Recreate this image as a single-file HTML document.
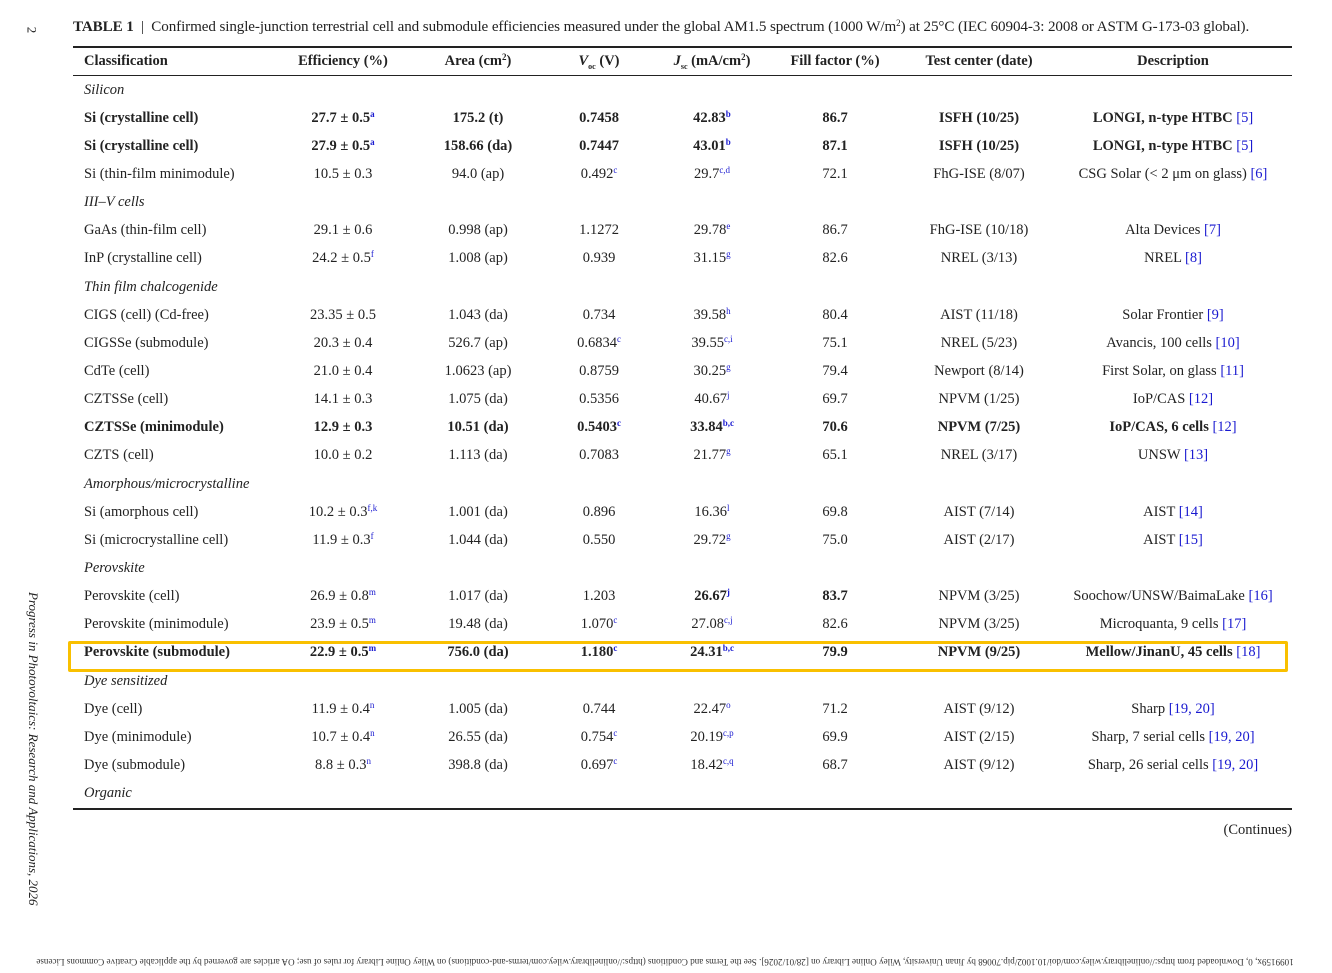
<!DOCTYPE html>
<html><head><meta charset="utf-8"><style>
body{margin:0;width:1332px;height:973px;background:#fff;position:relative;overflow:hidden;font-family:"Liberation Serif",serif;color:#222}
.cap{position:absolute;left:73px;top:19px;font-size:15.1px;white-space:nowrap;letter-spacing:-0.1px}
table{position:absolute;left:73px;top:46px;border-collapse:collapse;font-size:14.5px;table-layout:fixed}
td,th{height:28.15px;padding:0;white-space:nowrap;text-align:center;vertical-align:middle}
th{font-weight:bold;height:27px}
thead tr{border-top:2px solid #222;border-bottom:1.5px solid #222}
tbody tr:last-child{border-bottom:2px solid #222}
td:first-child,th:first-child{text-align:left;padding-left:11px}
tr.b td{font-weight:bold}
tr.g td{font-style:italic}
sup{color:#1a1ad0;font-size:9px;vertical-align:5px;line-height:0}
.r{color:#1a1ad0}
.hl{position:absolute;left:68px;top:641px;width:1214px;height:25px;border:3.5px solid #F9C000;border-radius:2px}
.side{position:absolute;left:33px;top:592px;transform-origin:0 0;transform:rotate(90deg) translateY(-50%);font-size:13px;font-style:italic;white-space:nowrap;letter-spacing:0px}
.pn{position:absolute;left:28px;top:22px;transform:rotate(90deg);font-size:13px}
.foot{position:absolute;left:10px;top:957px;width:1310px;font-size:9.1px;white-space:nowrap;transform:rotate(180deg);text-align:center;color:#333}
.cont{position:absolute;right:40px;top:822px;font-size:14.5px}
</style></head><body>
<div class="pn">2</div>
<div class="cap"><b>TABLE 1</b> &nbsp;|&nbsp; Confirmed single-junction terrestrial cell and submodule efficiencies measured under the global AM1.5 spectrum (1000 W/m<sup style="color:#222">2</sup>) at 25°C (IEC 60904-3: 2008 or ASTM G-173-03 global).</div>
<table>
<colgroup><col style="width:197px"><col style="width:146px"><col style="width:124px"><col style="width:118px"><col style="width:108px"><col style="width:138px"><col style="width:150px"><col style="width:238px"></colgroup>
<thead><tr><th>Classification</th><th>Efficiency (%)</th><th>Area (cm<sup style="color:#222">2</sup>)</th><th><i>V</i><sub style="font-size:8px">oc</sub> (V)</th><th><i>J</i><sub style="font-size:8px">sc</sub> (mA/cm<sup style="color:#222">2</sup>)</th><th>Fill factor (%)</th><th>Test center (date)</th><th>Description</th></tr></thead>
<tbody>
<tr class="g"><td>Silicon</td><td colspan="7"></td></tr>
<tr class="b"><td>Si (crystalline cell)</td><td>27.7 ± 0.5<sup>a</sup></td><td>175.2 (t)</td><td>0.7458</td><td>42.83<sup>b</sup></td><td>86.7</td><td>ISFH (10/25)</td><td>LONGI, n-type HTBC <span class="r" style="font-weight:normal">[5]</span></td></tr>
<tr class="b"><td>Si (crystalline cell)</td><td>27.9 ± 0.5<sup>a</sup></td><td>158.66 (da)</td><td>0.7447</td><td>43.01<sup>b</sup></td><td>87.1</td><td>ISFH (10/25)</td><td>LONGI, n-type HTBC <span class="r" style="font-weight:normal">[5]</span></td></tr>
<tr><td>Si (thin-film minimodule)</td><td>10.5 ± 0.3</td><td>94.0 (ap)</td><td>0.492<sup>c</sup></td><td>29.7<sup>c,d</sup></td><td>72.1</td><td>FhG-ISE (8/07)</td><td>CSG Solar (&lt; 2 μm on glass) <span class="r">[6]</span></td></tr>
<tr class="g"><td>III–V cells</td><td colspan="7"></td></tr>
<tr><td>GaAs (thin-film cell)</td><td>29.1 ± 0.6</td><td>0.998 (ap)</td><td>1.1272</td><td>29.78<sup>e</sup></td><td>86.7</td><td>FhG-ISE (10/18)</td><td>Alta Devices <span class="r">[7]</span></td></tr>
<tr><td>InP (crystalline cell)</td><td>24.2 ± 0.5<sup>f</sup></td><td>1.008 (ap)</td><td>0.939</td><td>31.15<sup>g</sup></td><td>82.6</td><td>NREL (3/13)</td><td>NREL <span class="r">[8]</span></td></tr>
<tr class="g"><td>Thin film chalcogenide</td><td colspan="7"></td></tr>
<tr><td>CIGS (cell) (Cd-free)</td><td>23.35 ± 0.5</td><td>1.043 (da)</td><td>0.734</td><td>39.58<sup>h</sup></td><td>80.4</td><td>AIST (11/18)</td><td>Solar Frontier <span class="r">[9]</span></td></tr>
<tr><td>CIGSSe (submodule)</td><td>20.3 ± 0.4</td><td>526.7 (ap)</td><td>0.6834<sup>c</sup></td><td>39.55<sup>c,i</sup></td><td>75.1</td><td>NREL (5/23)</td><td>Avancis, 100 cells <span class="r">[10]</span></td></tr>
<tr><td>CdTe (cell)</td><td>21.0 ± 0.4</td><td>1.0623 (ap)</td><td>0.8759</td><td>30.25<sup>g</sup></td><td>79.4</td><td>Newport (8/14)</td><td>First Solar, on glass <span class="r">[11]</span></td></tr>
<tr><td>CZTSSe (cell)</td><td>14.1 ± 0.3</td><td>1.075 (da)</td><td>0.5356</td><td>40.67<sup>j</sup></td><td>69.7</td><td>NPVM (1/25)</td><td>IoP/CAS <span class="r">[12]</span></td></tr>
<tr class="b"><td>CZTSSe (minimodule)</td><td>12.9 ± 0.3</td><td>10.51 (da)</td><td>0.5403<sup>c</sup></td><td>33.84<sup>b,c</sup></td><td>70.6</td><td>NPVM (7/25)</td><td>IoP/CAS, 6 cells <span class="r" style="font-weight:normal">[12]</span></td></tr>
<tr><td>CZTS (cell)</td><td>10.0 ± 0.2</td><td>1.113 (da)</td><td>0.7083</td><td>21.77<sup>g</sup></td><td>65.1</td><td>NREL (3/17)</td><td>UNSW <span class="r">[13]</span></td></tr>
<tr class="g"><td>Amorphous/microcrystalline</td><td colspan="7"></td></tr>
<tr><td>Si (amorphous cell)</td><td>10.2 ± 0.3<sup>f,k</sup></td><td>1.001 (da)</td><td>0.896</td><td>16.36<sup>l</sup></td><td>69.8</td><td>AIST (7/14)</td><td>AIST <span class="r">[14]</span></td></tr>
<tr><td>Si (microcrystalline cell)</td><td>11.9 ± 0.3<sup>f</sup></td><td>1.044 (da)</td><td>0.550</td><td>29.72<sup>g</sup></td><td>75.0</td><td>AIST (2/17)</td><td>AIST <span class="r">[15]</span></td></tr>
<tr class="g"><td>Perovskite</td><td colspan="7"></td></tr>
<tr><td>Perovskite (cell)</td><td>26.9 ± 0.8<sup>m</sup></td><td>1.017 (da)</td><td>1.203</td><td><b>26.67<sup>j</sup></b></td><td><b>83.7</b></td><td>NPVM (3/25)</td><td>Soochow/UNSW/BaimaLake <span class="r">[16]</span></td></tr>
<tr><td>Perovskite (minimodule)</td><td>23.9 ± 0.5<sup>m</sup></td><td>19.48 (da)</td><td>1.070<sup>c</sup></td><td>27.08<sup>c,j</sup></td><td>82.6</td><td>NPVM (3/25)</td><td>Microquanta, 9 cells <span class="r">[17]</span></td></tr>
<tr class="b"><td>Perovskite (submodule)</td><td>22.9 ± 0.5<sup>m</sup></td><td>756.0 (da)</td><td>1.180<sup>c</sup></td><td>24.31<sup>b,c</sup></td><td>79.9</td><td>NPVM (9/25)</td><td>Mellow/JinanU, 45 cells <span class="r" style="font-weight:normal">[18]</span></td></tr>
<tr class="g"><td>Dye sensitized</td><td colspan="7"></td></tr>
<tr><td>Dye (cell)</td><td>11.9 ± 0.4<sup>n</sup></td><td>1.005 (da)</td><td>0.744</td><td>22.47<sup>o</sup></td><td>71.2</td><td>AIST (9/12)</td><td>Sharp <span class="r">[19, 20]</span></td></tr>
<tr><td>Dye (minimodule)</td><td>10.7 ± 0.4<sup>n</sup></td><td>26.55 (da)</td><td>0.754<sup>c</sup></td><td>20.19<sup>c,p</sup></td><td>69.9</td><td>AIST (2/15)</td><td>Sharp, 7 serial cells <span class="r">[19, 20]</span></td></tr>
<tr><td>Dye (submodule)</td><td>8.8 ± 0.3<sup>n</sup></td><td>398.8 (da)</td><td>0.697<sup>c</sup></td><td>18.42<sup>c,q</sup></td><td>68.7</td><td>AIST (9/12)</td><td>Sharp, 26 serial cells <span class="r">[19, 20]</span></td></tr>
<tr class="g"><td>Organic</td><td colspan="7"></td></tr>
</tbody></table>
<div class="hl"></div>
<div class="cont">(Continues)</div>
<div class="side">Progress in Photovoltaics: Research and Applications, 2026</div>
<div class="foot">1099159x, 0, Downloaded from https://onlinelibrary.wiley.com/doi/10.1002/pip.70068 by Jinan University, Wiley Online Library on [28/01/2026]. See the Terms and Conditions (https://onlinelibrary.wiley.com/terms-and-conditions) on Wiley Online Library for rules of use; OA articles are governed by the applicable Creative Commons License</div>
</body></html>
